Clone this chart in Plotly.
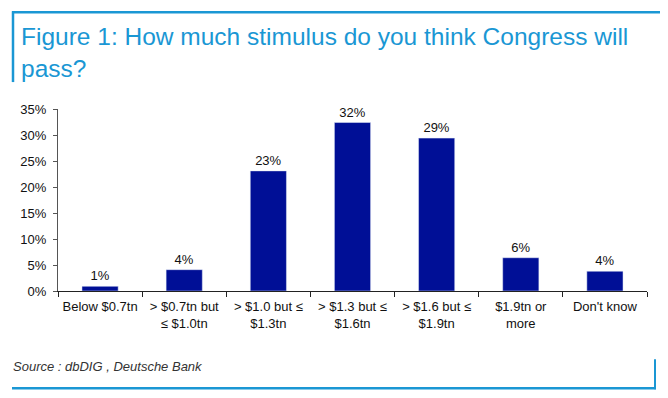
import plotly.graph_objects as go

categories = ["Below $0.7tn", "> $0.7tn but<br>≤ $1.0tn", "> $1.0 but ≤<br>$1.3tn",
              "> $1.3 but ≤<br>$1.6tn", "> $1.6 but ≤<br>$1.9tn", "$1.9tn or<br>more", "Don't know"]
values = [0.9, 4.1, 23.1, 32.4, 29.4, 6.4, 3.8]
y_ticks = [0, 5, 10, 15, 20, 25, 30, 35]
y_tick_labels = [f"{v}%" for v in y_ticks]

# page has an 8px body margin; figure is sized so it fills the 668x398 window
OFF = 8
W, H = 668 - OFF, 398 - OFF
L, R, T, B = 58 - OFF, 21, 109 - OFF, 106.5
pw, ph = W - L - R, H - T - B

def px(x):
    return (x - OFF - L) / pw

def py(y):
    return (H - B - (y - OFF)) / ph

blue = "#1a97d4"
FONT = "Arial, Liberation Sans, sans-serif"

fig = go.Figure(go.Bar(
    x=categories, y=values, marker_color="#000f96", width=0.43,
    texttemplate="%{y:.0f}%", textposition="outside", cliponaxis=False,
    textfont=dict(size=13, color="#111", family=FONT),
))

shapes = [
    dict(type="line", xref="paper", yref="paper", x0=px(12), x1=px(661), y0=py(12), y1=py(12),
         line=dict(color=blue, width=2.5)),
    dict(type="line", xref="paper", yref="paper", x0=px(13), x1=px(13), y0=py(11), y1=py(82),
         line=dict(color=blue, width=2.5)),
    dict(type="line", xref="paper", yref="paper", x0=px(12), x1=px(656), y0=py(389), y1=py(389),
         line=dict(color=blue, width=2.5)),
    dict(type="line", xref="paper", yref="paper", x0=px(655), x1=px(655), y0=py(360), y1=py(390),
         line=dict(color=blue, width=2)),
]

annotations = [
    dict(xref="paper", yref="paper", x=px(19), y=py(21), xanchor="left", yanchor="top",
         text="Figure 1: How much stimulus do you think Congress will<br>pass?", showarrow=False, align="left",
         font=dict(size=24.5, color=blue, family=FONT)),
    dict(xref="paper", yref="paper", x=px(11), y=py(367), xanchor="left", yanchor="middle",
         text="<i>Source : dbDIG , Deutsche Bank</i>", showarrow=False,
         font=dict(size=13, color="#333", family=FONT)),
]

fig.update_layout(
    width=W, height=H, margin=dict(l=L, r=R, t=T, b=B),
    plot_bgcolor="white", paper_bgcolor="white", showlegend=False,
    font=dict(family=FONT, size=13, color="#111"),
    shapes=shapes, annotations=annotations,
    xaxis=dict(showline=True, linecolor="#222", linewidth=1, ticks="outside", tickson="boundaries",
               ticklen=5, tickcolor="#222", tickfont=dict(size=13, color="#111"), showgrid=False,
               ticklabelstandoff=3, tickangle=0),
    yaxis=dict(range=[0, 35], tickvals=y_ticks, ticktext=y_tick_labels, showline=True, linecolor="#555",
               linewidth=1, ticks="outside", ticklen=4, tickcolor="#555", showgrid=False, zeroline=False,
               tickfont=dict(size=13, color="#111"), ticklabelstandoff=4),
)

fig.write_html("out.html")
